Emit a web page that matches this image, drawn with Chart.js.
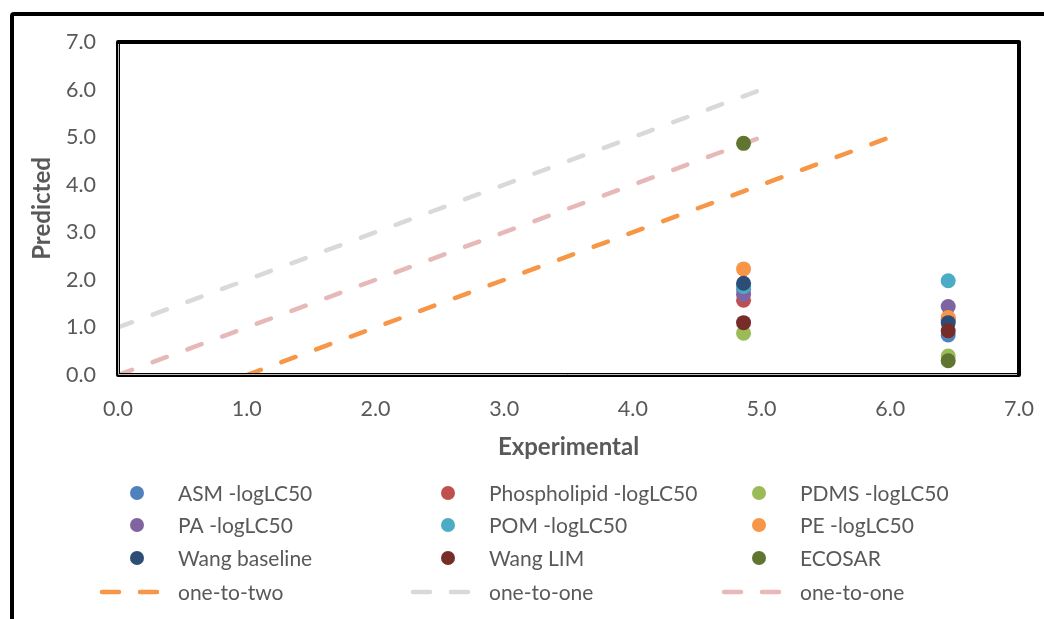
<!DOCTYPE html>
<html>
<head>
<meta charset="utf-8">
<script src="https://cdn.jsdelivr.net/npm/chart.js@4.4.1/dist/chart.umd.min.js"></script>
<style>
  html, body { margin: 0; padding: 0; background: #fff; }
  #wrap { width: 1044px; height: 619px; position: relative; }
</style>
</head>
<body>
<div id="wrap"><canvas id="predChart" width="1044" height="619"></canvas></div>
<script>
// experimentele waarden (x) en voorspellingen per model (y)
const expX = [4.86, 6.45];
const asm = [1.80, 0.84];
const phospholipid = [1.57, 1.16];
const pdms = [0.88, 0.40];
const pa = [1.69, 1.44];
const pom = [1.86, 1.98];
const pe = [2.23, 1.21];
const wangBaseline = [1.93, 1.10];
const wangLim = [1.10, 0.93];
const ecosar = [4.87, 0.30];

// referentielijnen
const oneToTwoX = [1, 6];
const oneToTwoY = [0, 5];
const oneToOneGrayX = [0, 5];
const oneToOneGrayY = [1, 6];
const oneToOnePinkX = [0, 5];
const oneToOnePinkY = [0, 5];

const axisTicks = [0, 1, 2, 3, 4, 5, 6, 7];

const FONT = "Lato, 'Open Sans', sans-serif";
const TEXT = "#595959";

function pts(xs, ys) {
  return xs.map((x, i) => ({ x, y: ys[i] }));
}

const puntSeries = [
  { label: "ASM -logLC50", data: asm, kleur: "#4F81BD" },
  { label: "Phospholipid -logLC50", data: phospholipid, kleur: "#C0504D" },
  { label: "PDMS -logLC50", data: pdms, kleur: "#9BBB59" },
  { label: "PA -logLC50", data: pa, kleur: "#8064A2" },
  { label: "POM -logLC50", data: pom, kleur: "#4BACC6" },
  { label: "PE -logLC50", data: pe, kleur: "#F79646" },
  { label: "Wang baseline", data: wangBaseline, kleur: "#2C4D75" },
  { label: "Wang LIM", data: wangLim, kleur: "#772C2A" },
  { label: "ECOSAR", data: ecosar, kleur: "#5F7530" },
];

const lijnSeries = [
  { label: "one-to-two", xs: oneToTwoX, ys: oneToTwoY, kleur: "#F79646" },
  { label: "one-to-one", xs: oneToOneGrayX, ys: oneToOneGrayY, kleur: "#D9D9D9" },
  { label: "one-to-one", xs: oneToOnePinkX, ys: oneToOnePinkY, kleur: "#E6B9B8" },
];

const datasets = [];
puntSeries.forEach((s, i) => {
  datasets.push({
    label: s.label,
    data: pts(expX, s.data),
    backgroundColor: s.kleur,
    borderColor: s.kleur,
    pointRadius: 7.5,
    pointBorderWidth: 0,
    showLine: false,
    order: 20 - i, // latere series bovenop
    legendType: "punt",
  });
});
lijnSeries.forEach((s, i) => {
  datasets.push({
    label: s.label,
    data: pts(s.xs, s.ys),
    borderColor: s.kleur,
    backgroundColor: s.kleur,
    borderWidth: 4.5,
    borderDash: [15, 22],
    borderCapStyle: "round",
    pointRadius: 0,
    showLine: true,
    order: 50 + i, // lijnen onder de punten
    legendType: "lijn",
  });
});

// kaders en legenda zelf tekenen
const kaderPlugin = {
  id: "kader",
  afterDraw(chart) {
    const ctx = chart.ctx;
    const a = chart.chartArea;
    ctx.save();
    // buitenkader
    ctx.strokeStyle = "#000";
    ctx.lineWidth = 4;
    ctx.beginPath();
    ctx.moveTo(12, 640);
    ctx.lineTo(12, 16);
    ctx.arcTo(12, 14, 14, 14, 2);
    ctx.lineTo(1060, 14);
    ctx.stroke();

    // plotkader
    ctx.lineWidth = 4;
    ctx.lineJoin = "round";
    ctx.strokeRect(a.left, a.top, a.right - a.left, a.bottom - a.top);
    ctx.strokeStyle = "#bfbfbf";
    ctx.lineWidth = 1;
    ctx.beginPath();
    ctx.moveTo(a.left + 0.5, a.top + 2);
    ctx.lineTo(a.left + 0.5, a.bottom - 0.5);
    ctx.lineTo(a.right - 2, a.bottom - 0.5);
    ctx.stroke();

    // legenda, 3 kolommen
    const kolX = [137, 448, 759];
    const rijY = [493, 525, 558, 592];
    ctx.font = "21px " + FONT;
    ctx.textBaseline = "middle";
    ctx.textAlign = "left";
    chart.data.datasets.forEach((ds, i) => {
      const cx = kolX[i % 3];
      const cy = rijY[Math.floor(i / 3)];
      if (ds.legendType === "punt") {
        ctx.fillStyle = ds.backgroundColor;
        ctx.beginPath();
        ctx.arc(cx, cy, 7, 0, Math.PI * 2);
        ctx.fill();
      } else {
        ctx.strokeStyle = ds.borderColor;
        ctx.lineWidth = 4.5;
        ctx.lineCap = "round";
        ctx.beginPath();
        ctx.moveTo(cx - 35, cy);
        ctx.lineTo(cx - 18, cy);
        ctx.moveTo(cx + 3, cy);
        ctx.lineTo(cx + 20, cy);
        ctx.stroke();
      }
      ctx.fillStyle = TEXT;
      ctx.fillText(ds.label, cx + 41, cy + 1);
    });
    ctx.restore();
  },
};

const ctx = document.getElementById("predChart").getContext("2d");
new Chart(ctx, {
  type: "scatter",
  data: { datasets },
  options: {
    responsive: false,
    animation: false,
    layout: { padding: { left: 0, top: 42, right: 25, bottom: 157 } },
    plugins: {
      legend: { display: false },
      tooltip: { enabled: false },
    },
    scales: {
      x: {
        type: "linear",
        min: 0,
        max: 7,
        afterBuildTicks: (s) => { s.ticks = axisTicks.map((v) => ({ value: v })); },
        afterFit: (s) => {
          s.height = 87;
          s.paddingLeft = 0;
          s.paddingRight = 0;
        },
        grid: { display: false, drawTicks: false },
        border: { display: false },
        ticks: {
          color: TEXT,
          font: { family: FONT, size: 21.5 },
          padding: 21,
          callback: (v) => Number(v).toFixed(1),
        },
        title: {
          display: true,
          text: "Experimental",
          color: TEXT,
          font: { family: FONT, size: 24, weight: "bold" },
          padding: { top: 0, bottom: 0 },
        },
      },
      y: {
        type: "linear",
        min: 0,
        max: 7,
        afterBuildTicks: (s) => { s.ticks = axisTicks.map((v) => ({ value: v })); },
        afterFit: (s) => { s.width = 118; },
        grid: { display: false, drawTicks: false },
        border: { display: false },
        ticks: {
          color: TEXT,
          font: { family: FONT, size: 21.5 },
          padding: 22,
          callback: (v) => Number(v).toFixed(1),
        },
        title: {
          display: true,
          text: "Predicted",
          color: TEXT,
          font: { family: FONT, size: 24, weight: "bold" },
          padding: { top: 28, bottom: 0 },
        },
      },
    },
  },
  plugins: [kaderPlugin],
});
</script>
</body>
</html>
